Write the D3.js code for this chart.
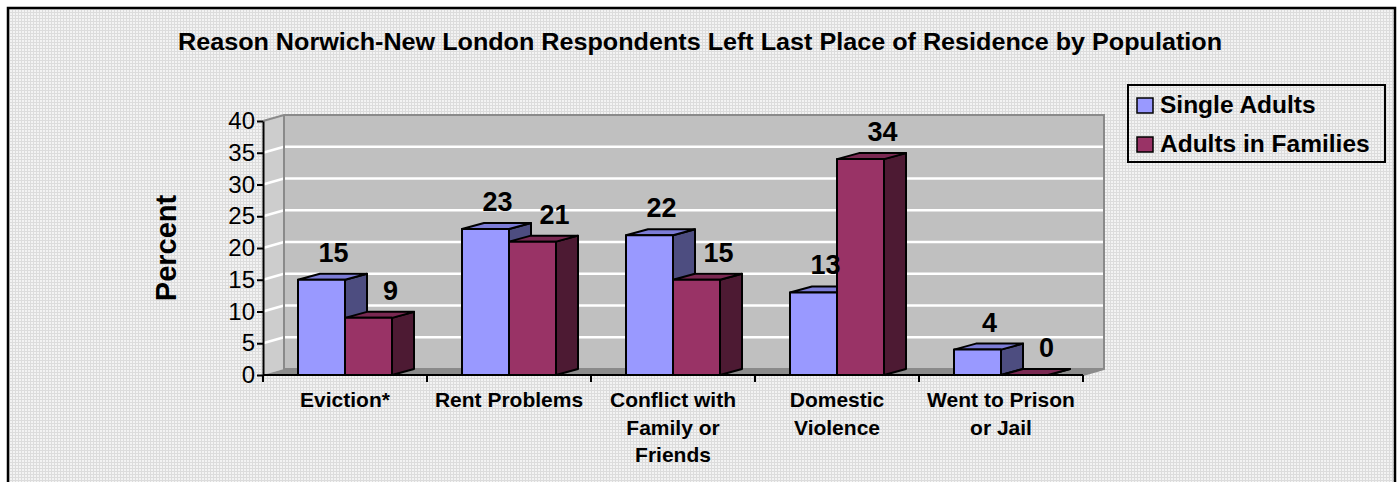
<!DOCTYPE html>
<html>
<head>
    <script src="https://cdn.jsdelivr.net/npm/d3@7"></script>
    <style>
        body { margin: 0; background: #ffffff; }
        text { font-family: 'Liberation Sans', Arial, sans-serif; }
    </style>
</head>

<body>
<div id="chart"></div>

<script>

    var title = 'Reason Norwich-New London Respondents Left Last Place of Residence by Population';
    var categories = ['Eviction*', 'Rent Problems', 'Conflict with\nFamily or\nFriends', 'Domestic\nViolence', 'Went to Prison\nor Jail'];
    var seriesNames = ['Single Adults', 'Adults in Families'];
    var singleAdults = [15, 23, 22, 13, 4];
    var adultsInFamilies = [9, 21, 15, 34, 0];
    var yTicks = [0, 5, 10, 15, 20, 25, 30, 35, 40];

    var front = ['#9999ff', '#993366'];
    var topFace = ['#7c7cd6', '#7a2952'];
    var sideFace = ['#4d4d80', '#4d1a33'];

    var width = 1397, height = 482;
    var dx = 22, dy = -6;       // depth offset of the 3d boxes
    var wallDx = 21, wallDy = -6;

    var svg = d3.select('#chart').append('svg')
        .attr('width', width)
        .attr('height', height);

    // fine grid background
    var defs = svg.append('defs');
    var pat = defs.append('pattern')
        .attr('id', 'grid')
        .attr('width', 3).attr('height', 3)
        .attr('patternUnits', 'userSpaceOnUse');
    pat.append('rect').attr('width', 3).attr('height', 3).attr('fill', '#f3f3f3');
    pat.append('rect').attr('width', 3).attr('height', 1).attr('fill', '#dcdcdc');
    pat.append('rect').attr('width', 1).attr('height', 3).attr('fill', '#dcdcdc');

    svg.append('rect')
        .attr('x', 8).attr('y', 8)
        .attr('width', 1387).attr('height', 500)
        .attr('fill', 'url(#grid)')
        .attr('stroke', '#000').attr('stroke-width', 2.5);

    svg.append('text')
        .attr('x', 700).attr('y', 50)
        .attr('text-anchor', 'middle')
        .attr('font-size', 23)
        .attr('font-weight', 'bold')
        .attr('textLength', 1044)
        .attr('lengthAdjust', 'spacingAndGlyphs')
        .text(title);

    var x0 = d3.scaleBand()
        .domain(categories)
        .range([263, 1083]);

    var x1 = d3.scaleBand()
        .domain(seriesNames)
        .range([35, 129]);

    var y = d3.scaleLinear()
        .domain([0, 40])
        .range([375, 121]);

    var y0 = y(0), left = x0.range()[0], right = x0.range()[1];

    // walls and floor
    var wall = svg.append('g');
    wall.append('polygon')
        .attr('points', [[left, y0], [left, y(40)], [left + wallDx, y(40) + wallDy], [left + wallDx, y0 + wallDy]].join(' '))
        .attr('fill', '#cdcdcd');
    wall.append('rect')
        .attr('x', left + wallDx).attr('y', y(40) + wallDy)
        .attr('width', right - left).attr('height', y0 - y(40))
        .attr('fill', '#c0c0c0');
    wall.append('polygon')
        .attr('points', [[left, y0], [right, y0], [right + wallDx, y0 + wallDy], [left + wallDx, y0 + wallDy]].join(' '))
        .attr('fill', '#8c8c8c');

    // gridlines on side and back wall
    var grid = yTicks.filter(function(d) { return d > 0 && d < 40; });
    wall.selectAll('line.back')
        .data(grid)
        .enter()
        .append('line')
        .attr('x1', left + wallDx).attr('x2', right + wallDx)
        .attr('y1', function(d) { return y(d) + wallDy; })
        .attr('y2', function(d) { return y(d) + wallDy; })
        .attr('stroke', '#fff').attr('stroke-width', 2.5);
    wall.selectAll('line.side')
        .data(grid)
        .enter()
        .append('line')
        .attr('x1', left).attr('x2', left + wallDx)
        .attr('y1', function(d) { return y(d); })
        .attr('y2', function(d) { return y(d) + wallDy; })
        .attr('stroke', '#fff').attr('stroke-width', 2.5);

    // wall edges
    wall.append('path')
        .attr('d', 'M' + left + ',' + y(40) + 'L' + (left + wallDx) + ',' + (y(40) + wallDy) +
            'H' + (right + wallDx) + 'V' + (y0 + wallDy) + 'L' + right + ',' + y0 +
            'M' + (left + wallDx) + ',' + (y(40) + wallDy) + 'V' + (y0 + wallDy) + 'H' + (right + wallDx))
        .attr('fill', 'none')
        .attr('stroke', '#8a8a8a').attr('stroke-width', 2);

    // bars
    var rows = [];
    categories.forEach(function(c, i) {
        rows.push({cat: c, s: 0, v: singleAdults[i]});
        rows.push({cat: c, s: 1, v: adultsInFamilies[i]});
    });

    var bars = svg.append('g')
        .attr('stroke', '#000')
        .attr('stroke-width', 2)
        .attr('stroke-linejoin', 'round');

    var bar = bars.selectAll('g.bar')
        .data(rows)
        .enter()
        .append('g')
        .attr('class', 'bar');

    function bx(d) { return x0(d.cat) + x1(seriesNames[d.s]); }
    var bw = x1.bandwidth();

    bar.append('polygon')
        .attr('points', function(d) {
            var x = bx(d), t = y(d.v);
            return [[x + bw, t], [x + bw + dx, t + dy], [x + bw + dx, y0 + dy], [x + bw, y0]].join(' ');
        })
        .attr('fill', function(d) { return sideFace[d.s]; });

    bar.append('polygon')
        .attr('points', function(d) {
            var x = bx(d), t = y(d.v);
            return [[x, t], [x + dx, t + dy], [x + bw + dx, t + dy], [x + bw, t]].join(' ');
        })
        .attr('fill', function(d) { return topFace[d.s]; });

    bar.filter(function(d) { return d.v > 0; })
        .append('rect')
        .attr('x', bx)
        .attr('y', function(d) { return y(d.v); })
        .attr('width', bw)
        .attr('height', function(d) { return y0 - y(d.v); })
        .attr('fill', function(d) { return front[d.s]; });

    // value labels
    var labelShift = [12, 22];
    svg.append('g')
        .selectAll('text')
        .data(rows)
        .enter()
        .append('text')
        .attr('x', function(d) { return bx(d) + bw / 2 + labelShift[d.s]; })
        .attr('y', function(d) { return y(d.v) - 18; })
        .attr('text-anchor', 'middle')
        .attr('font-size', 27)
        .attr('font-weight', 'bold')
        .text(function(d) { return d.v; });

    // y axis
    var yAxis = svg.append('g')
        .attr('transform', 'translate(' + left + ',0)')
        .call(d3.axisLeft(y).tickValues(yTicks).tickSize(6).tickSizeOuter(0).tickPadding(2));
    yAxis.select('.domain').attr('stroke', '#000').attr('stroke-width', 2);
    yAxis.selectAll('.tick line').attr('stroke', '#000').attr('stroke-width', 2);
    yAxis.selectAll('.tick text')
        .attr('font-size', 24)
        .attr('font-family', "'Liberation Sans', Arial, sans-serif")
        .attr('fill', '#000');

    // x axis line and ticks at category edges
    var xAxis = svg.append('g');
    xAxis.append('line')
        .attr('x1', left).attr('x2', right)
        .attr('y1', y0).attr('y2', y0)
        .attr('stroke', '#000').attr('stroke-width', 2);
    xAxis.selectAll('line.tick')
        .data(categories.map(function(c) { return x0(c); }).concat([right]))
        .enter()
        .append('line')
        .attr('x1', function(d) { return d; }).attr('x2', function(d) { return d; })
        .attr('y1', y0).attr('y2', y0 + 7)
        .attr('stroke', '#000').attr('stroke-width', 2);

    var catText = xAxis.selectAll('text')
        .data(categories)
        .enter()
        .append('text')
        .attr('text-anchor', 'middle')
        .attr('font-size', 21)
        .attr('font-weight', 'bold');
    catText.selectAll('tspan')
        .data(function(d) { return d.split('\n').map(function(s) { return {line: s, cat: d}; }); })
        .enter()
        .append('tspan')
        .attr('x', function(d) { return x0(d.cat) + x0.bandwidth() / 2; })
        .attr('y', function(d, i) { return 407 + i * 27.5; })
        .text(function(d) { return d.line; });

    svg.append('text')
        .attr('transform', 'translate(176,248) rotate(-90)')
        .attr('text-anchor', 'middle')
        .attr('font-size', 29)
        .attr('font-weight', 'bold')
        .text('Percent');

    // legend
    var legend = svg.append('g');
    legend.append('rect')
        .attr('x', 1128).attr('y', 85)
        .attr('width', 257).attr('height', 77)
        .attr('fill', 'url(#grid)')
        .attr('stroke', '#000').attr('stroke-width', 2);

    var legendEntries = legend.selectAll('g.legend-entry')
        .data(seriesNames)
        .enter()
        .append('g')
        .attr('class', 'legend-entry')
        .attr('transform', function(d, i) { return 'translate(1137,' + (98 + i * 39) + ')'; });

    legendEntries.append('rect')
        .attr('width', 16).attr('height', 15)
        .attr('fill', function(d, i) { return front[i]; })
        .attr('stroke', '#000').attr('stroke-width', 1.5);

    legendEntries.append('text')
        .attr('x', 23).attr('y', 15)
        .attr('font-size', 24.5)
        .attr('font-weight', 'bold')
        .text(function(d) { return d; });

</script>
</body>
</html>
